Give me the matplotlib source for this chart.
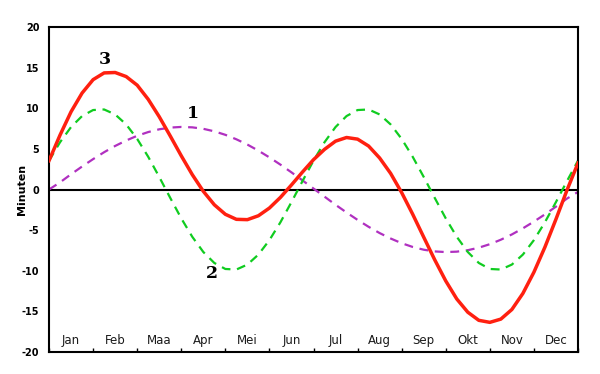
import numpy as np
import matplotlib.pyplot as plt

# time axis in months (quarter-month steps), values in minutes
months = ["Jan", "Feb", "Maa", "Apr", "Mei", "Jun", "Jul", "Aug", "Sep", "Okt", "Nov", "Dec"]
t = np.arange(49) * 0.25

ecc = [0.0, 0.88, 1.88, 2.83, 3.74, 4.59, 5.36, 6.03, 6.61, 7.07, 7.41, 7.62, 7.70,
       7.65, 7.47, 7.16, 6.73, 6.18, 5.53, 4.78, 3.95, 3.06, 2.11, 1.12, 0.12,
       -0.88, -1.88, -2.83, -3.74, -4.59, -5.36, -6.03, -6.61, -7.07, -7.41, -7.62, -7.70,
       -7.65, -7.47, -7.16, -6.73, -6.18, -5.53, -4.78, -3.95, -3.06, -2.11, -1.12, -0.3]

obl = [3.55, 5.82, 7.69, 9.04, 9.78, 9.85, 9.24, 8.01, 6.23, 4.03, 1.55, -1.03,
       -3.55, -5.82, -7.69, -9.04, -9.78, -9.85, -9.24, -8.01, -6.23, -4.03, -1.55, 1.03,
       3.55, 5.82, 7.69, 9.04, 9.78, 9.85, 9.24, 8.01, 6.23, 4.03, 1.55, -1.03,
       -3.55, -5.82, -7.69, -9.04, -9.78, -9.85, -9.24, -8.01, -6.23, -4.03, -1.55, 1.03, 3.55]

total = [3.55, 6.70, 9.57, 11.87, 13.52, 14.35, 14.40, 13.90, 12.84, 11.10, 8.96, 6.59,
         4.15, 1.83, -0.22, -1.88, -3.05, -3.67, -3.71, -3.23, -2.28, -0.97, 0.56, 2.15,
         3.67, 4.94, 5.95, 6.40, 6.20, 5.35, 3.88, 1.98, -0.38, -3.04, -5.86, -8.65,
         -11.25, -13.47, -15.10, -16.10, -16.35, -15.95, -14.77, -12.79, -10.18, -7.09,
         -3.66, -0.09, 3.25]

fig = plt.figure(figsize=(6, 3.74), dpi=100)
ax = fig.add_axes([0.0817, 0.0588, 0.8816, 0.869])

ax.axhline(0, color="black", lw=1.5, zorder=1)
ax.plot(t, ecc, color="#b030c0", lw=1.6, dashes=(4, 3), zorder=2)
ax.plot(t, obl, color="#10cc20", lw=1.6, dashes=(4, 3), zorder=2)
ax.plot(t, total, color="#ff2010", lw=2.5, solid_joinstyle="round", zorder=3)

tf = dict(fontsize=12.5, fontweight="bold", family="DejaVu Serif", ha="center", va="center")
ax.text(1.27, 16.0, "3", **tf)
ax.text(3.27, 9.3, "1", **tf)
ax.text(3.7, -10.3, "2", **tf)

for i, m in enumerate(months):
    ax.text(i + 0.5, -18.6, m, fontsize=8.5, ha="center", va="center", color="#1a1a1a")

ax.set_xlim(0, 12)
ax.set_ylim(-20, 20)
ax.set_xticks(range(13))
ax.set_xticklabels([])
ax.tick_params(axis="x", direction="in", length=3, width=1)
ax.set_yticks(range(-20, 21, 5))
ax.set_yticklabels([str(v) for v in range(-20, 21, 5)], fontsize=7, fontweight="bold")
ax.tick_params(axis="y", length=0, pad=7)
ax.set_ylabel("Minuten", fontsize=8, fontweight="bold")
ax.yaxis.set_label_coords(-0.042, 0.5)
for s in ax.spines.values():
    s.set_linewidth(1.5)

fig.savefig("out.png")
